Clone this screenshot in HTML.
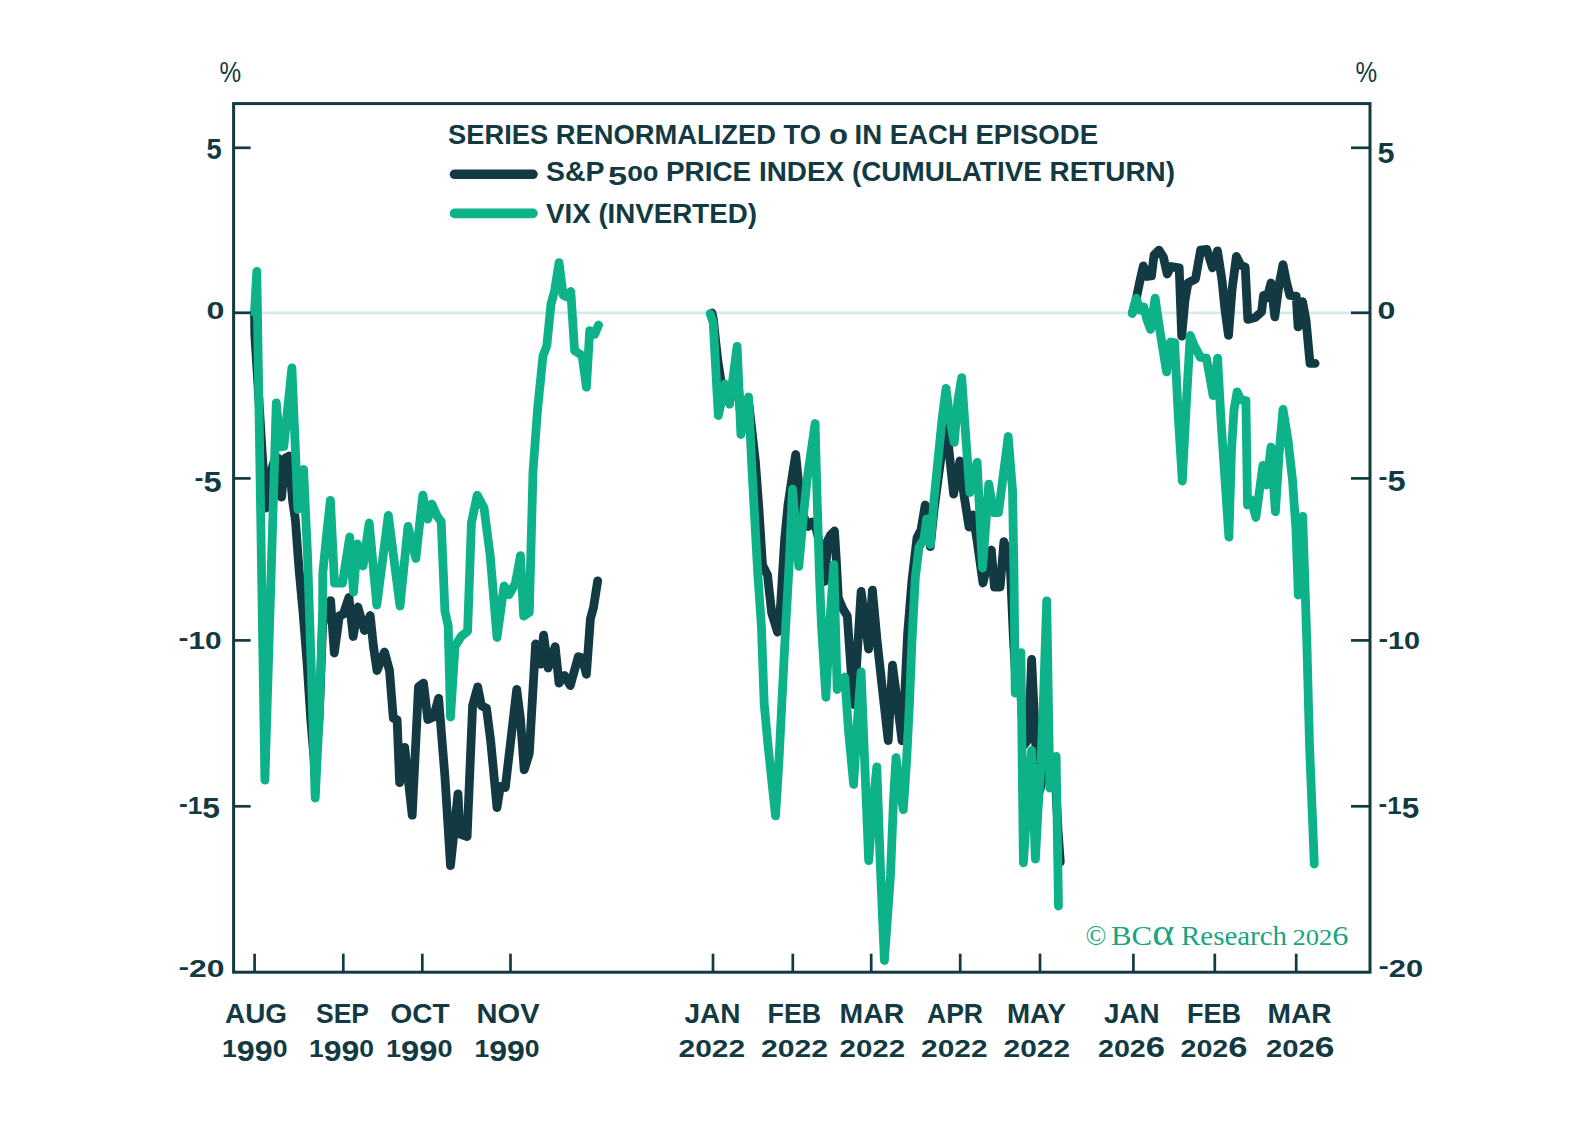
<!DOCTYPE html>
<html lang="en"><head><meta charset="utf-8"><title>S&amp;P 500 vs VIX (inverted) by episode</title>
<style>html,body{margin:0;padding:0;background:#fff}svg{display:block}text{font-family:"Liberation Sans",sans-serif;font-weight:bold;fill:#133a42}.ser{font-family:"Liberation Serif",serif;font-weight:normal;fill:#17a580}.reg{font-weight:normal}</style></head><body>
<svg width="1593" height="1144" viewBox="0 0 1593 1144">
<rect width="1593" height="1144" fill="#fff"/>
<line x1="233.6" y1="312.8" x2="1370.0" y2="312.8" stroke="#d2e9ee" stroke-width="2.8"/>
<g id="series">
<polyline points="254.5,312.5 254.8,335 258,385 262,450 265.8,508 270,475 274,462 278,458 281.5,497 285.3,458 289,456 292.5,500 295.4,520 299,569 303,612 307,662 310.8,720 315,770 319.3,715 322.6,625 326.5,606 330.6,600.6 334.3,653 339.4,615.7 343.2,614.4 348.9,597.4 353.2,636.5 357.9,607 364.5,630.5 370.2,615.5 373.4,646 377,670.5 384.5,652 389.5,670.5 393.3,718.3 397.1,719.6 399.6,782.5 404.7,747.3 412.2,815.2 418.5,686.8 423.5,683.1 427.8,719.6 433.6,717 438.6,698.2 444.9,776.2 450.5,865.6 458,793.8 460,834.1 467.1,836.6 472.6,705.7 477.7,686.8 481.4,705.7 486.5,708.2 490.7,741 497,807.7 500.3,786.3 505.3,787.5 511.6,733.4 516.7,689.4 520.4,718.3 524.2,769.9 529.3,753.5 535.6,644 540.6,664.2 543.6,635.2 548.1,668 555.2,646.6 559,683.1 564.5,675.5 570.3,685.6 578.3,656.6 582.1,657.9 586.4,674.3 590.4,618.9 593.5,607.5 597.7,580.8" fill="none" stroke="#133a42" stroke-width="8.8" stroke-linejoin="round" stroke-linecap="round"/>
<polyline points="254.5,312.5 256.8,271.5 264.9,780 276.3,402.8 280.2,447 283.8,446.5 291.9,367.8 297.9,509.5 303.6,469.5 307.5,555 311.4,672 315.2,798 319.3,715 322.6,610 322.8,573 326.6,535 330.4,500.3 334.5,583 342.5,583 349.7,537 353.5,592 357.3,544 363,566 369.2,523 376.8,605 388.3,515.4 400,606 408,526.5 415.8,558.5 422.8,495.2 427.8,519.2 431.8,504 437.4,516.6 441.2,521.7 444.9,611 448.2,626.1 450.5,717 455,646.3 461.3,636.2 467.6,631.2 471.4,523 477.2,495.2 484,507.8 490.2,555.7 497,637.5 504.1,585.9 509.1,594.7 515.4,583.3 520.4,555.7 523.7,616.1 529.3,612.3 533,471.5 537.5,410 543,355.7 546.8,345.7 551,304.1 554.6,291 559,262.6 563.2,295.3 567,297 570.8,291.5 574.6,350.7 582.1,355.7 586.4,387.2 589.7,330.6 594.7,334.3 598.5,325" fill="none" stroke="#0db288" stroke-width="8.8" stroke-linejoin="round" stroke-linecap="round"/>
<polyline points="712,313 713.5,320 715.5,340 718,362 721,381 726,395 730,400 734,385 737.5,375 741,420 745,415 749,405 755.4,461.5 759,510 762.5,565 767.5,575 771.7,613 777.5,632 780.6,605 784.6,540 788,505 792,478 795.7,454.5 799.5,492 803.5,516 808,526.5 812,522 816,528 820,545 824.5,581.5 828,540 830.5,535 834.5,531 836.3,560 838.3,598 843,609 847.3,616 851,670 854.1,704.5 857.5,650 861.1,591.5 865,620 868.6,649 872.4,590.2 877,640 882.5,690 888.2,740.5 892.5,665.2 897,700 902,740.7 904.5,700 907.6,634 912,580 917,537.8 921,530 925.2,505 930.3,546.6 934,510 938,480 942,450 946,422 950,460 953.6,494 959.9,461 964,495 969,527 973,515 977,540 983,583 987,565 991.3,550 994.5,587 1000.1,587 1003.9,541.6 1010,560 1013.5,640 1016.5,690 1020,680 1024,745 1028.6,739 1031.6,659.5 1036.1,751.7 1040,790 1044,770 1048,760 1052,780 1056,790 1058,830 1060.3,862" fill="none" stroke="#133a42" stroke-width="8.8" stroke-linejoin="round" stroke-linecap="round"/>
<polyline points="710.1,313.6 713.2,322.4 718.3,415.5 725.2,384 729.6,404.2 737.1,346.3 740.9,434.5 748.5,397 752,470 757.8,574 761.4,626 764.2,704 768,745 775.5,815.9 779,760 781.8,704 785.5,630 789.4,560 792.5,489.2 798.8,566.3 803,520 807,480 815.1,423.5 817.3,505 819.6,580 821.5,626 825.9,697.3 830,620 833.8,564.6 837.2,689.6 844.7,677 848.5,730 853.6,784.4 857.5,720 861.1,672 865,770 868.7,860.7 872.5,810 876.8,767 880.5,870 884.4,960.5 890.5,875 893.5,800 896,757.7 899.5,785 903.3,809.7 906.4,764 909.5,703 912,640 915.3,578 919.1,546.8 924,539 926.6,519 930.4,544.5 934,500 938,460 942,420 946,388.3 950,420 954.2,442.4 958,400 961.7,377.6 966,440 969.8,492.5 977.1,462.4 982.5,568 988.8,484.2 993.5,512.5 998.5,512.5 1008.2,436.5 1012.5,490 1014,576 1015.2,693 1020.9,652.7 1022.2,764 1023.4,862.8 1027.5,800 1031.6,750.5 1035.4,859 1038,810 1041,764 1043.8,690 1046.7,600.8 1049.8,788 1056.1,756.4 1058.5,906" fill="none" stroke="#0db288" stroke-width="8.8" stroke-linejoin="round" stroke-linecap="round"/>
<polyline points="1132.6,312.4 1136,300 1139.5,283 1143.3,265.9 1147.1,276.5 1151.5,276 1154,255.2 1159,250.1 1163.4,257 1167.2,274 1171,266.5 1179.2,267.8 1181.7,336 1185,300 1188,282.9 1195.5,279 1200.6,250.1 1206.8,249.5 1212.5,267.8 1217.5,250.8 1222,280.3 1225,310 1228.5,335.3 1232,290 1236.4,256.4 1240.8,265.2 1245.2,267.1 1247.8,319.4 1255.3,317.5 1261.6,311.8 1263.5,295.4 1267,298 1271,282.9 1274.8,316.8 1279,285 1283,264.6 1286.5,282 1289.9,295.4 1296.2,296.1 1298.1,326.9 1302.5,301.7 1306,320 1310,363.4 1315.1,363.4" fill="none" stroke="#133a42" stroke-width="8.8" stroke-linejoin="round" stroke-linecap="round"/>
<polyline points="1132.2,313.6 1136.3,298.2 1140,310 1143.8,306.8 1147,320 1150.6,329.4 1155.1,298.2 1159,325 1163,350 1166.6,372 1170.5,342 1174.6,342.5 1178.5,420 1182.3,481 1186.5,400 1190.2,335.5 1194,345 1197.3,351.3 1200.3,357.3 1206.4,358 1209.5,375 1213.1,395.7 1217.6,358.2 1221,420 1225,480 1228.9,537 1231.5,450 1234,410 1237.1,391.9 1241,400 1245.9,400.7 1247.5,505 1251.5,500 1255.9,517.5 1262.9,465.3 1266.5,485 1271,447 1275.4,511.8 1279,455 1283,409.5 1288,440 1292.5,480 1296,530 1298.3,595 1302.7,516.3 1306.9,644 1309.5,745 1314.3,864" fill="none" stroke="#0db288" stroke-width="8.8" stroke-linejoin="round" stroke-linecap="round"/>
</g>
<rect x="233.6" y="103.6" width="1136.4" height="868.6" fill="none" stroke="#133a42" stroke-width="3"/>
<g stroke="#133a42" stroke-width="2.7">
<line x1="233.6" y1="147.8" x2="250.6" y2="147.8"/>
<line x1="1370.0" y1="147.8" x2="1351.0" y2="147.8"/>
<line x1="233.6" y1="312.8" x2="250.6" y2="312.8"/>
<line x1="1370.0" y1="312.8" x2="1351.0" y2="312.8"/>
<line x1="233.6" y1="478.4" x2="250.6" y2="478.4"/>
<line x1="1370.0" y1="478.4" x2="1351.0" y2="478.4"/>
<line x1="233.6" y1="640.4" x2="250.6" y2="640.4"/>
<line x1="1370.0" y1="640.4" x2="1351.0" y2="640.4"/>
<line x1="233.6" y1="806.3" x2="250.6" y2="806.3"/>
<line x1="1370.0" y1="806.3" x2="1351.0" y2="806.3"/>
<line x1="254.6" y1="972.2" x2="254.6" y2="953.7"/>
<line x1="343.3" y1="972.2" x2="343.3" y2="953.7"/>
<line x1="422.3" y1="972.2" x2="422.3" y2="953.7"/>
<line x1="510.5" y1="972.2" x2="510.5" y2="953.7"/>
<line x1="713" y1="972.2" x2="713" y2="953.7"/>
<line x1="792.8" y1="972.2" x2="792.8" y2="953.7"/>
<line x1="871.2" y1="972.2" x2="871.2" y2="953.7"/>
<line x1="960.2" y1="972.2" x2="960.2" y2="953.7"/>
<line x1="1040" y1="972.2" x2="1040" y2="953.7"/>
<line x1="1133.4" y1="972.2" x2="1133.4" y2="953.7"/>
<line x1="1214.8" y1="972.2" x2="1214.8" y2="953.7"/>
<line x1="1296.2" y1="972.2" x2="1296.2" y2="953.7"/>
</g>
<line x1="454.5" y1="174.3" x2="533" y2="174.3" stroke="#133a42" stroke-width="9.6" stroke-linecap="round"/>
<line x1="454.5" y1="213.4" x2="533" y2="213.4" stroke="#0db288" stroke-width="9.6" stroke-linecap="round"/>
<g id="labels">
<text x="448.0" y="144.4" textLength="373.01" lengthAdjust="spacingAndGlyphs"><tspan font-size="27.3">SERIES RENORMALIZED TO</tspan></text>
<text x="829.0" y="144.4" textLength="19.16" lengthAdjust="spacingAndGlyphs"><tspan font-size="21.8">0</tspan></text>
<text x="854.5" y="144.4" textLength="243.53" lengthAdjust="spacingAndGlyphs"><tspan font-size="27.3">IN EACH EPISODE</tspan></text>
<text x="546.0" y="181.1" textLength="58.57" lengthAdjust="spacingAndGlyphs"><tspan font-size="27.3">S&amp;P</tspan></text>
<text x="608.0" y="181.1" textLength="50.62" lengthAdjust="spacingAndGlyphs"><tspan font-size="26.5" dy="3.4">5</tspan><tspan font-size="21.8" dy="-3.4">00</tspan></text>
<text x="666.0" y="181.1" textLength="509.01" lengthAdjust="spacingAndGlyphs"><tspan font-size="27.3">PRICE INDEX (CUMULATIVE RETURN)</tspan></text>
<text x="546.0" y="222.5" textLength="211.01" lengthAdjust="spacingAndGlyphs"><tspan font-size="27.3">VIX (INVERTED)</tspan></text>
<text x="219.5" y="81.6" textLength="21.6" lengthAdjust="spacingAndGlyphs" class="reg"><tspan font-size="29.5">%</tspan></text>
<text x="1355.5" y="81.7" textLength="21.6" lengthAdjust="spacingAndGlyphs" class="reg"><tspan font-size="29.5">%</tspan></text>
<text x="206.5" y="155.4" textLength="15.18" lengthAdjust="spacingAndGlyphs"><tspan font-size="29.0" dy="3.7">5</tspan></text>
<text x="206.5" y="318.6" textLength="17.93" lengthAdjust="spacingAndGlyphs"><tspan font-size="24.0">0</tspan></text>
<text x="194.5" y="487.9" textLength="27.2" lengthAdjust="spacingAndGlyphs"><tspan font-size="24.0" dy="-2.4">-</tspan><tspan font-size="29.0" dy="6.1">5</tspan></text>
<text x="178.5" y="648.8" textLength="43.12" lengthAdjust="spacingAndGlyphs"><tspan font-size="24.0" dy="-2.4">-</tspan><tspan font-size="24.0" dy="2.4">10</tspan></text>
<text x="179.0" y="814.0" textLength="41.06" lengthAdjust="spacingAndGlyphs"><tspan font-size="24.0" dy="-2.4">-</tspan><tspan font-size="24.0" dy="2.4">1</tspan><tspan font-size="29.0" dy="3.7">5</tspan></text>
<text x="178.5" y="977.1" textLength="46.11" lengthAdjust="spacingAndGlyphs"><tspan font-size="24.0" dy="-2.4">-</tspan><tspan font-size="24.0" dy="2.4">20</tspan></text>
<text x="1377.5" y="159.0" textLength="17.01" lengthAdjust="spacingAndGlyphs"><tspan font-size="29.0" dy="3.7">5</tspan></text>
<text x="1377.5" y="318.6" textLength="17.91" lengthAdjust="spacingAndGlyphs"><tspan font-size="24.0">0</tspan></text>
<text x="1378.5" y="487.6" textLength="27.11" lengthAdjust="spacingAndGlyphs"><tspan font-size="24.0" dy="-2.4">-</tspan><tspan font-size="29.0" dy="6.1">5</tspan></text>
<text x="1378.5" y="649.0" textLength="41.65" lengthAdjust="spacingAndGlyphs"><tspan font-size="24.0" dy="-2.4">-</tspan><tspan font-size="24.0" dy="2.4">10</tspan></text>
<text x="1378.5" y="814.0" textLength="40.65" lengthAdjust="spacingAndGlyphs"><tspan font-size="24.0" dy="-2.4">-</tspan><tspan font-size="24.0" dy="2.4">1</tspan><tspan font-size="29.0" dy="3.7">5</tspan></text>
<text x="1378.5" y="976.8" textLength="44.67" lengthAdjust="spacingAndGlyphs"><tspan font-size="24.0" dy="-2.4">-</tspan><tspan font-size="24.0" dy="2.4">20</tspan></text>
<text x="225.0" y="1022.5" textLength="62.08" lengthAdjust="spacingAndGlyphs"><tspan font-size="28.0">AUG</tspan></text>
<text x="316.0" y="1022.5" textLength="53.05" lengthAdjust="spacingAndGlyphs"><tspan font-size="28.0">SEP</tspan></text>
<text x="390.5" y="1022.5" textLength="59.04" lengthAdjust="spacingAndGlyphs"><tspan font-size="28.0">OCT</tspan></text>
<text x="476.5" y="1022.5" textLength="63.08" lengthAdjust="spacingAndGlyphs"><tspan font-size="28.0">NOV</tspan></text>
<text x="684.5" y="1022.5" textLength="56.14" lengthAdjust="spacingAndGlyphs"><tspan font-size="28.0">JAN</tspan></text>
<text x="767.5" y="1022.5" textLength="53.67" lengthAdjust="spacingAndGlyphs"><tspan font-size="28.0">FEB</tspan></text>
<text x="839.5" y="1022.5" textLength="64.65" lengthAdjust="spacingAndGlyphs"><tspan font-size="28.0">MAR</tspan></text>
<text x="927.0" y="1022.5" textLength="56.03" lengthAdjust="spacingAndGlyphs"><tspan font-size="28.0">APR</tspan></text>
<text x="1007.0" y="1022.5" textLength="59.08" lengthAdjust="spacingAndGlyphs"><tspan font-size="28.0">MAY</tspan></text>
<text x="1104.0" y="1022.5" textLength="55.61" lengthAdjust="spacingAndGlyphs"><tspan font-size="28.0">JAN</tspan></text>
<text x="1187.0" y="1022.5" textLength="54.19" lengthAdjust="spacingAndGlyphs"><tspan font-size="28.0">FEB</tspan></text>
<text x="1267.5" y="1022.5" textLength="64.14" lengthAdjust="spacingAndGlyphs"><tspan font-size="28.0">MAR</tspan></text>
<text x="222.0" y="1056.8" textLength="65.59" lengthAdjust="spacingAndGlyphs"><tspan font-size="24.0">1</tspan><tspan font-size="29.0" dy="3.7">99</tspan><tspan font-size="24.0" dy="-3.7">0</tspan></text>
<text x="309.0" y="1056.8" textLength="65.11" lengthAdjust="spacingAndGlyphs"><tspan font-size="24.0">1</tspan><tspan font-size="29.0" dy="3.7">99</tspan><tspan font-size="24.0" dy="-3.7">0</tspan></text>
<text x="386.0" y="1056.8" textLength="66.68" lengthAdjust="spacingAndGlyphs"><tspan font-size="24.0">1</tspan><tspan font-size="29.0" dy="3.7">99</tspan><tspan font-size="24.0" dy="-3.7">0</tspan></text>
<text x="474.5" y="1056.8" textLength="65.12" lengthAdjust="spacingAndGlyphs"><tspan font-size="24.0">1</tspan><tspan font-size="29.0" dy="3.7">99</tspan><tspan font-size="24.0" dy="-3.7">0</tspan></text>
<text x="678.5" y="1056.8" textLength="66.59" lengthAdjust="spacingAndGlyphs"><tspan font-size="24.0">2022</tspan></text>
<text x="761.0" y="1056.8" textLength="67.09" lengthAdjust="spacingAndGlyphs"><tspan font-size="24.0">2022</tspan></text>
<text x="839.5" y="1056.8" textLength="65.59" lengthAdjust="spacingAndGlyphs"><tspan font-size="24.0">2022</tspan></text>
<text x="921.0" y="1056.8" textLength="66.57" lengthAdjust="spacingAndGlyphs"><tspan font-size="24.0">2022</tspan></text>
<text x="1003.5" y="1056.8" textLength="66.58" lengthAdjust="spacingAndGlyphs"><tspan font-size="24.0">2022</tspan></text>
<text x="1098.0" y="1056.8" textLength="67.07" lengthAdjust="spacingAndGlyphs"><tspan font-size="24.0">202</tspan><tspan font-size="29.0">6</tspan></text>
<text x="1180.5" y="1056.8" textLength="67.06" lengthAdjust="spacingAndGlyphs"><tspan font-size="24.0">202</tspan><tspan font-size="29.0">6</tspan></text>
<text x="1266.0" y="1056.8" textLength="68.59" lengthAdjust="spacingAndGlyphs"><tspan font-size="24.0">202</tspan><tspan font-size="29.0">6</tspan></text>
<text x="1085.5" y="945.2" textLength="20.88" lengthAdjust="spacingAndGlyphs" class="ser"><tspan font-size="28.0">©</tspan></text>
<text x="1111.0" y="945.2" textLength="63.08" lengthAdjust="spacingAndGlyphs" class="ser"><tspan font-size="28.0">BC</tspan><tspan font-size="38.0">α</tspan></text>
<text x="1181.0" y="945.2" textLength="106.04" lengthAdjust="spacingAndGlyphs" class="ser"><tspan font-size="28.0">Research</tspan></text>
<text x="1292.5" y="945.2" textLength="56.08" lengthAdjust="spacingAndGlyphs" class="ser"><tspan font-size="22.5">202</tspan><tspan font-size="27.5">6</tspan></text>
</g>
</svg></body></html>
